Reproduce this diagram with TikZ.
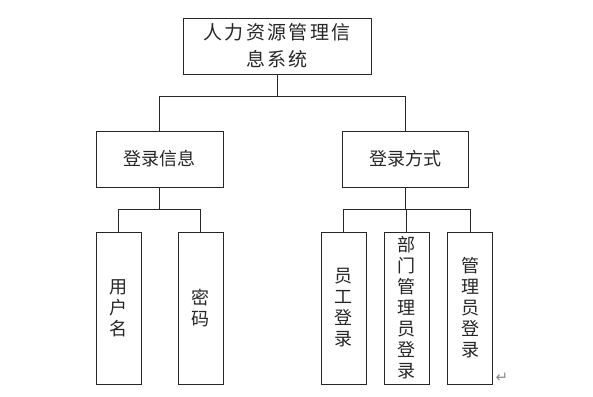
\documentclass[tikz,border=0pt]{standalone}
\usepackage{fontspec}
\newfontfamily\cjk{Noto Sans CJK SC}
\newfontfamily\sym{DejaVu Sans}
\begin{document}
\begin{tikzpicture}[x=1pt,y=-1pt,
  box/.style={draw=black!85,line width=0.9pt,inner sep=0pt,font=\cjk\fontsize{18}{21}\selectfont,text=black!85,align=center},
  leaf/.style={box,minimum width=45,minimum height=152},
  mid/.style={box,minimum width=127,minimum height=56},
  wire/.style={draw=black!85,line width=0.9pt}]
\useasboundingbox (0,0) rectangle (593,396);
\node[box,minimum width=188,minimum height=56,font=\cjk\fontsize{19}{27}\selectfont] (top) at (277,46) {\addfontfeature{LetterSpace=13}人力资源管理信\\\addfontfeature{LetterSpace=13}息系统};
\node[mid] (la) at (159.5,159) {登录信息};
\node[mid,minimum width=126] (lb) at (405,159) {登录方式};
\node[leaf] (c1) at (118.5,308) {用\\户\\名};
\node[leaf] (c2) at (200.5,308) {密\\码};
\node[leaf] (c3) at (343.5,308) {员\\工\\登\\录};
\node[leaf] (c4) at (406.5,308) {部\\门\\管\\理\\员\\登\\录};
\node[leaf] (c5) at (470,308) {管\\理\\员\\登\\录};
\node[font=\sym\fontsize{15}{15}\selectfont,text=black!45,inner sep=0pt] (ret) at (502,378) {↵};
\coordinate (b1) at (0,96);
\coordinate (b2) at (0,209);
\draw[wire] (top.south) -- (top.south |- b1);
\draw[wire] (la.north) -- (la.north |- b1) -- (lb.north |- b1) -- (lb.north);
\draw[wire] (la.south) -- (la.south |- b2);
\draw[wire] (c1.north) -- (c1.north |- b2) -- (c2.north |- b2) -- (c2.north);
\draw[wire] (lb.south) -- (lb.south |- b2);
\draw[wire] (c3.north) -- (c3.north |- b2) -- (c5.north |- b2) -- (c5.north);
\draw[wire] (c4.north) -- (c4.north |- b2);
\end{tikzpicture}
\end{document}
